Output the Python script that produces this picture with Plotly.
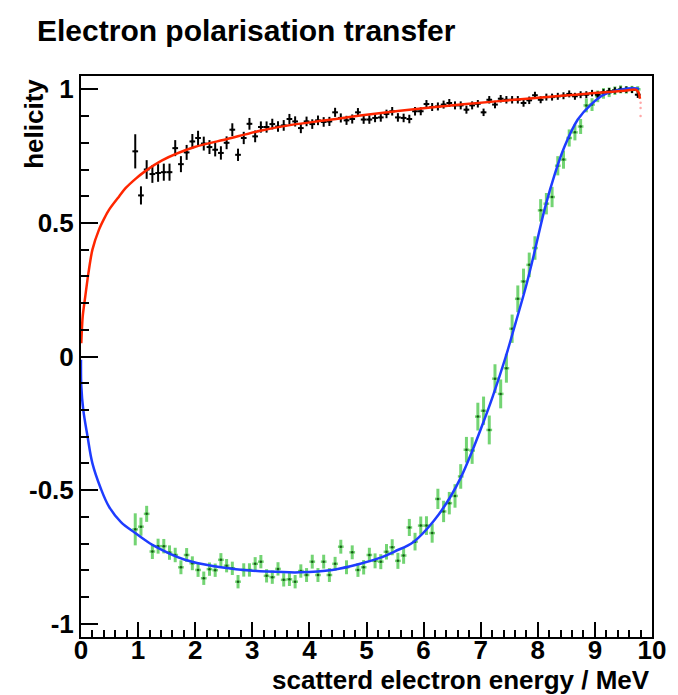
import plotly.graph_objects as go

# bin centres (MeV)
energy_bins = [0.95, 1.05, 1.15, 1.25, 1.35, 1.45, 1.55, 1.65, 1.75, 1.85,
               1.95, 2.05, 2.15, 2.25, 2.35, 2.45, 2.55, 2.65, 2.75, 2.85,
               2.95, 3.05, 3.15, 3.25, 3.35, 3.45, 3.55, 3.65, 3.75, 3.85,
               3.95, 4.05, 4.15, 4.25, 4.35, 4.45, 4.55, 4.65, 4.75, 4.85,
               4.95, 5.05, 5.15, 5.25, 5.35, 5.45, 5.55, 5.65, 5.75, 5.85,
               5.95, 6.05, 6.15, 6.25, 6.35, 6.45, 6.55, 6.65, 6.75, 6.85,
               6.95, 7.05, 7.15, 7.25, 7.35, 7.45, 7.55, 7.65, 7.75, 7.85,
               7.95, 8.05, 8.15, 8.25, 8.35, 8.45, 8.55, 8.65, 8.75, 8.85,
               8.95, 9.05, 9.15, 9.25, 9.35, 9.45, 9.55, 9.65, 9.75]
bin_half_width = 0.05

# black: longitudinal helicity data
long_hel = [0.768, 0.603, 0.700, 0.683, 0.687, 0.690, 0.690, 0.780, 0.720, 0.764,
            0.805, 0.818, 0.797, 0.784, 0.774, 0.762, 0.800, 0.849, 0.755, 0.818,
            0.871, 0.824, 0.859, 0.859, 0.870, 0.861, 0.865, 0.889, 0.880, 0.855,
            0.880, 0.870, 0.884, 0.878, 0.880, 0.914, 0.893, 0.884, 0.889, 0.914,
            0.887, 0.887, 0.893, 0.895, 0.908, 0.918, 0.895, 0.893, 0.889, 0.918,
            0.918, 0.945, 0.934, 0.936, 0.943, 0.949, 0.940, 0.940, 0.924, 0.940,
            0.946, 0.914, 0.961, 0.943, 0.965, 0.961, 0.961, 0.961, 0.949, 0.959,
            0.978, 0.961, 0.971, 0.971, 0.974, 0.976, 0.983, 0.974, 0.980, 0.980,
            0.986, 0.980, 0.989, 0.993, 0.996, 0.999, 0.999, 0.998, 0.980]
long_err = [0.064, 0.034, 0.035, 0.033, 0.033, 0.032, 0.032, 0.030, 0.030, 0.028,
            0.028, 0.027, 0.026, 0.026, 0.025, 0.025, 0.024, 0.024, 0.023, 0.023,
            0.022, 0.022, 0.021, 0.021, 0.020, 0.020, 0.020, 0.019, 0.019, 0.019,
            0.018, 0.018, 0.018, 0.018, 0.017, 0.017, 0.017, 0.017, 0.017, 0.016,
            0.016, 0.016, 0.016, 0.016, 0.016, 0.016, 0.016, 0.016, 0.016, 0.016,
            0.015, 0.015, 0.015, 0.015, 0.015, 0.015, 0.015, 0.015, 0.015, 0.015,
            0.014, 0.014, 0.014, 0.014, 0.014, 0.014, 0.014, 0.014, 0.014, 0.014,
            0.013, 0.013, 0.013, 0.013, 0.013, 0.013, 0.013, 0.013, 0.013, 0.013,
            0.012, 0.012, 0.012, 0.012, 0.012, 0.012, 0.012, 0.012, 0.012]

# green: transverse helicity data
trans_hel = [-0.647, -0.637, -0.589, -0.730, -0.710, -0.710, -0.734, -0.743, -0.789, -0.743,
             -0.774, -0.799, -0.830, -0.796, -0.800, -0.761, -0.783, -0.793, -0.843, -0.799,
             -0.799, -0.776, -0.768, -0.821, -0.826, -0.795, -0.836, -0.834, -0.843, -0.803,
             -0.818, -0.768, -0.818, -0.768, -0.818, -0.776, -0.712, -0.789, -0.733, -0.799,
             -0.789, -0.743, -0.765, -0.768, -0.731, -0.714, -0.765, -0.745, -0.640, -0.693,
             -0.633, -0.633, -0.661, -0.533, -0.580, -0.549, -0.522, -0.449, -0.349, -0.352,
             -0.225, -0.203, -0.275, -0.083, -0.140, -0.044, 0.104, 0.216, 0.281, 0.343,
             0.406, 0.547, 0.572, 0.597, 0.714, 0.737, 0.818, 0.839, 0.861, 0.940,
             0.943, 0.974, 0.985, 0.989, 0.995, 1.000, 0.998, 1.000, 1.000]
trans_err = [0.060, 0.034, 0.030, 0.028, 0.028, 0.027, 0.027, 0.027, 0.026, 0.026,
             0.026, 0.026, 0.025, 0.025, 0.025, 0.025, 0.025, 0.025, 0.025, 0.025,
             0.025, 0.025, 0.025, 0.025, 0.025, 0.025, 0.025, 0.025, 0.025, 0.025,
             0.026, 0.026, 0.026, 0.026, 0.026, 0.026, 0.026, 0.026, 0.026, 0.026,
             0.027, 0.027, 0.028, 0.028, 0.029, 0.030, 0.030, 0.031, 0.032, 0.033,
             0.034, 0.035, 0.036, 0.038, 0.040, 0.042, 0.044, 0.046, 0.048, 0.050,
             0.052, 0.053, 0.054, 0.054, 0.054, 0.054, 0.053, 0.050, 0.048, 0.046,
             0.044, 0.042, 0.040, 0.038, 0.036, 0.034, 0.032, 0.030, 0.028, 0.026,
             0.024, 0.022, 0.020, 0.018, 0.016, 0.015, 0.014, 0.013, 0.012]

# red: theoretical longitudinal transfer curve
red_x = [0.005, 0.03, 0.075, 0.13, 0.2, 0.315, 0.41, 0.49, 0.67, 0.78, 0.96, 1.12,
         1.42, 1.99, 2.56, 3.14, 3.71, 4.29, 5.0, 6.12, 7.27, 8.42, 8.99, 9.56,
         9.71, 9.76, 9.79]
red_y = [0.05, 0.15, 0.225, 0.312, 0.40, 0.475, 0.518, 0.549, 0.60, 0.630, 0.666, 0.693,
         0.734, 0.784, 0.814, 0.845, 0.868, 0.884, 0.905, 0.932, 0.955, 0.976, 0.986, 0.996,
         0.999, 0.99, 0.965]
red_tail_x = [9.8, 9.8, 9.8]
red_tail_y = [0.95, 0.93, 0.90]

# blue: theoretical transverse transfer curve
blue_x = [0.0, 0.005, 0.04, 0.115, 0.2, 0.345, 0.49, 0.7, 0.95, 1.12, 1.25, 1.82,
          2.39, 2.85, 3.25, 3.83, 4.4, 4.92, 5.26, 5.49, 5.83, 6.18, 6.47, 6.67,
          6.84, 7.04, 7.21, 7.44, 7.61, 7.79, 7.93, 8.13, 8.3, 8.47, 8.70, 8.93,
          9.16, 9.45, 9.74, 9.77]
blue_y = [-0.012, -0.11, -0.20, -0.30, -0.40, -0.493, -0.562, -0.62, -0.661, -0.687, -0.705, -0.761,
          -0.787, -0.799, -0.805, -0.808, -0.799, -0.774, -0.752, -0.73, -0.693, -0.615, -0.525, -0.445,
          -0.36, -0.25, -0.15, 0.0, 0.125, 0.26, 0.38, 0.56, 0.685, 0.787, 0.887, 0.943,
          0.98, 0.999, 1.003, 1.0]

x_tickvals = [0, 1, 2, 3, 4, 5, 6, 7, 8, 9, 10]
y_tickvals = [-1, -0.5, 0, 0.5, 1]
y_ticktext = ["-1", "-0.5", "0", "0.5", "1"]

FONT = "Liberation Sans, Arial, Helvetica, sans-serif"

fig = go.Figure()

fig.add_trace(go.Scatter(
    x=energy_bins, y=trans_hel, mode="markers",
    marker=dict(color="#1a5a1a", size=2.5),
    error_y=dict(type="data", array=trans_err, color="rgba(90,205,90,0.85)", thickness=3, width=0),
    error_x=dict(type="constant", value=bin_half_width, color="rgba(90,205,90,0.85)", thickness=2.5, width=0),
    showlegend=False))

fig.add_trace(go.Scatter(
    x=energy_bins, y=long_hel, mode="markers",
    marker=dict(color="black", size=2.5),
    error_y=dict(type="data", array=long_err, color="black", thickness=2, width=0),
    error_x=dict(type="constant", value=bin_half_width, color="black", thickness=2, width=0),
    showlegend=False))

fig.add_trace(go.Scatter(
    x=blue_x, y=blue_y, mode="lines",
    line=dict(color="#1e3cff", width=2.5, shape="spline", smoothing=1.0),
    showlegend=False))

fig.add_trace(go.Scatter(
    x=red_x, y=red_y, mode="lines",
    line=dict(color="#ff2600", width=2.5, shape="spline", smoothing=0.8),
    showlegend=False))

fig.add_trace(go.Scatter(
    x=red_tail_x, y=red_tail_y, mode="markers",
    marker=dict(color="rgba(255,110,110,0.6)", size=2.5),
    showlegend=False))

axis_font = dict(family=FONT, size=26, color="black", weight="bold")

fig.update_layout(
    width=678, height=695,
    margin=dict(l=81, r=16, t=76, b=58),
    paper_bgcolor="white", plot_bgcolor="white",
    title=dict(text="Electron polarisation transfer",
               font=dict(family=FONT, size=30, color="black", weight="bold"),
               xref="container", x=37 / 678, xanchor="left",
               yref="container", y=1 - 30 / 695, yanchor="middle"),
    xaxis=dict(range=[0, 10], tickvals=x_tickvals, ticks="inside", ticklen=15, tickwidth=2,
               tickcolor="black", showline=True, linecolor="black", linewidth=2, mirror=True,
               showgrid=False, zeroline=False, tickfont=axis_font, ticklabelstandoff=-11,
               minor=dict(dtick=0.2, ticks="inside", ticklen=7, tickwidth=1.5, tickcolor="black",
                          showgrid=False)),
    yaxis=dict(range=[-1.05, 1.05], tickvals=y_tickvals, ticktext=y_ticktext, ticks="inside",
               ticklen=17, tickwidth=2, tickcolor="black", showline=True, linecolor="black",
               linewidth=2, mirror=True, showgrid=False, zeroline=False, tickfont=axis_font,
               minor=dict(dtick=0.1, ticks="inside", ticklen=8, tickwidth=1.5, tickcolor="black",
                          showgrid=False)),
    annotations=[
        dict(text="scatterd electron energy / MeV", xref="paper", yref="paper",
             x=1.0, y=(637 - 680) / 561, xanchor="right", yanchor="middle", showarrow=False,
             font=dict(family=FONT, size=26, color="black", weight="bold")),
        dict(text="helicity", xref="paper", yref="paper", textangle=-90,
             x=(33 - 81) / 581, y=(637 - 77) / 561, xanchor="center", yanchor="top", showarrow=False,
             font=dict(family=FONT, size=26, color="black", weight="bold")),
    ],
)

fig.write_html("out.html")
